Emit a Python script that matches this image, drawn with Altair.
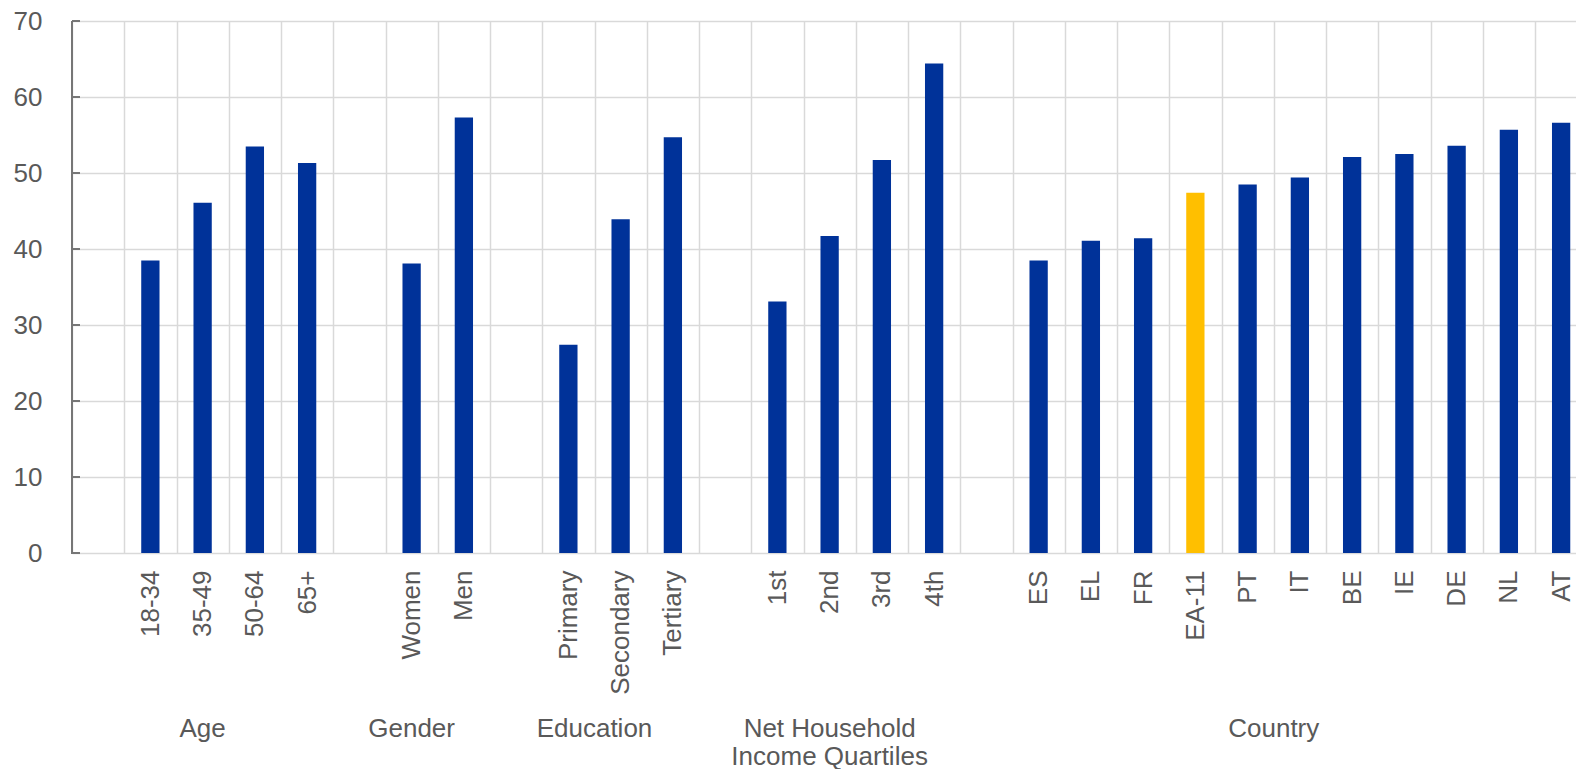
import altair as alt
import pandas as pd

# Slot order along the category axis; names starting with "_" are empty spacer slots
slots = [
    "_age", "18-34", "35-49", "50-64", "65+",
    "_gender", "Women", "Men",
    "_edu", "Primary", "Secondary", "Tertiary",
    "_inc", "1st", "2nd", "3rd", "4th",
    "_cty", "ES", "EL", "FR", "EA-11", "PT", "IT", "BE", "IE", "DE", "NL", "AT",
]

categories = [
    "18-34", "35-49", "50-64", "65+",
    "Women", "Men",
    "Primary", "Secondary", "Tertiary",
    "1st", "2nd", "3rd", "4th",
    "ES", "EL", "FR", "EA-11", "PT", "IT", "BE", "IE", "DE", "NL", "AT",
]
values = [
    38.5, 46.1, 53.5, 51.3,
    38.1, 57.3,
    27.4, 43.9, 54.7,
    33.1, 41.7, 51.7, 64.4,
    38.5, 41.1, 41.4, 47.4, 48.5, 49.4, 52.1, 52.5, 53.6, 55.7, 56.6,
]
highlight = "EA-11"

group_names = ["Age", "Gender", "Education", "Net Household\nIncome Quartiles", "Country"]
group_anchor = ["35-49", "Women", "Primary", "2nd", "PT"]
group_between = [False, False, True, False, True]

y_ticks = [0, 10, 20, 30, 40, 50, 60, 70]

BLUE = "#003299"
YELLOW = "#FFBF00"
GRID = "#D9D9D9"
TEXT = "#595959"
FONT = "Liberation Sans"

W, H = 1504, 532
STEP = 52.25

bars = pd.DataFrame({"slot": categories, "value": values})
bars["kind"] = ["hi" if c == highlight else "base" for c in categories]
groups = pd.DataFrame({"name": group_names, "slot": group_anchor, "between": group_between})
ticks_df = pd.DataFrame({"v": y_ticks})

xscale = alt.Scale(domain=slots, range=[0, STEP * len(slots)], paddingInner=0, paddingOuter=0)
yscale = alt.Scale(domain=[0, 70], nice=False)

x_axis = alt.Axis(
    title=None, labelAngle=-90, labelAlign="right", labelBaseline="middle",
    labelPadding=17, labelFontSize=26, labelColor=TEXT, labelFont=FONT,
    ticks=False, domain=False, grid=True, tickBand="extent",
    gridColor=GRID, gridWidth=1.5, labelOverlap=False, labelLimit=300,
    labelExpr="substring(datum.value, 0, 1) == '_' ? '' : datum.value",
)
y_axis = alt.Axis(
    title=None, values=y_ticks, labelFontSize=26, labelColor=TEXT, labelFont=FONT,
    labelPadding=30, ticks=False, domain=False, grid=True,
    gridColor=GRID, gridWidth=1.5,
)

bar_layer = alt.Chart(bars).mark_bar(width=alt.RelativeBandSize(0.35)).encode(
    x=alt.X("slot:N", scale=xscale, axis=x_axis, sort=slots),
    y=alt.Y("value:Q", scale=yscale, axis=y_axis),
    color=alt.Color("kind:N", scale=alt.Scale(domain=["base", "hi"], range=[BLUE, YELLOW]), legend=None),
)

axis_line = alt.Chart(pd.DataFrame({"v": [0]})).mark_rule(color="#767676", strokeWidth=2).encode(
    x=alt.value(0), y=alt.value(0), y2=alt.value(H + 1),
)
tick_layer = alt.Chart(ticks_df).mark_rule(color="#767676", strokeWidth=2).encode(
    y=alt.Y("v:Q", scale=yscale), x=alt.value(0), x2=alt.value(8),
)

text_style = dict(fontSize=26, color=TEXT, font=FONT, align="center",
                  baseline="alphabetic", lineBreak="\n", lineHeight=28)

centered = alt.Chart(groups).transform_filter("!datum.between").mark_text(**text_style).encode(
    x=alt.X("slot:N", scale=xscale, bandPosition=0.5),
    y=alt.value(716),
    text="name:N",
)
between = alt.Chart(groups).transform_filter("datum.between").mark_text(**text_style).encode(
    x=alt.X("slot:N", scale=xscale, bandPosition=1),
    y=alt.value(716),
    text="name:N",
)

chart = alt.layer(bar_layer, axis_line, tick_layer, centered, between).properties(
    width=W, height=H,
    autosize=alt.AutoSizeParams(type="none"),
    padding={"left": 72, "top": 21, "right": 0, "bottom": 216},
).configure_view(stroke=None).configure(background="white")

chart.save("out.html", embed_options={"renderer": "svg", "actions": False})
